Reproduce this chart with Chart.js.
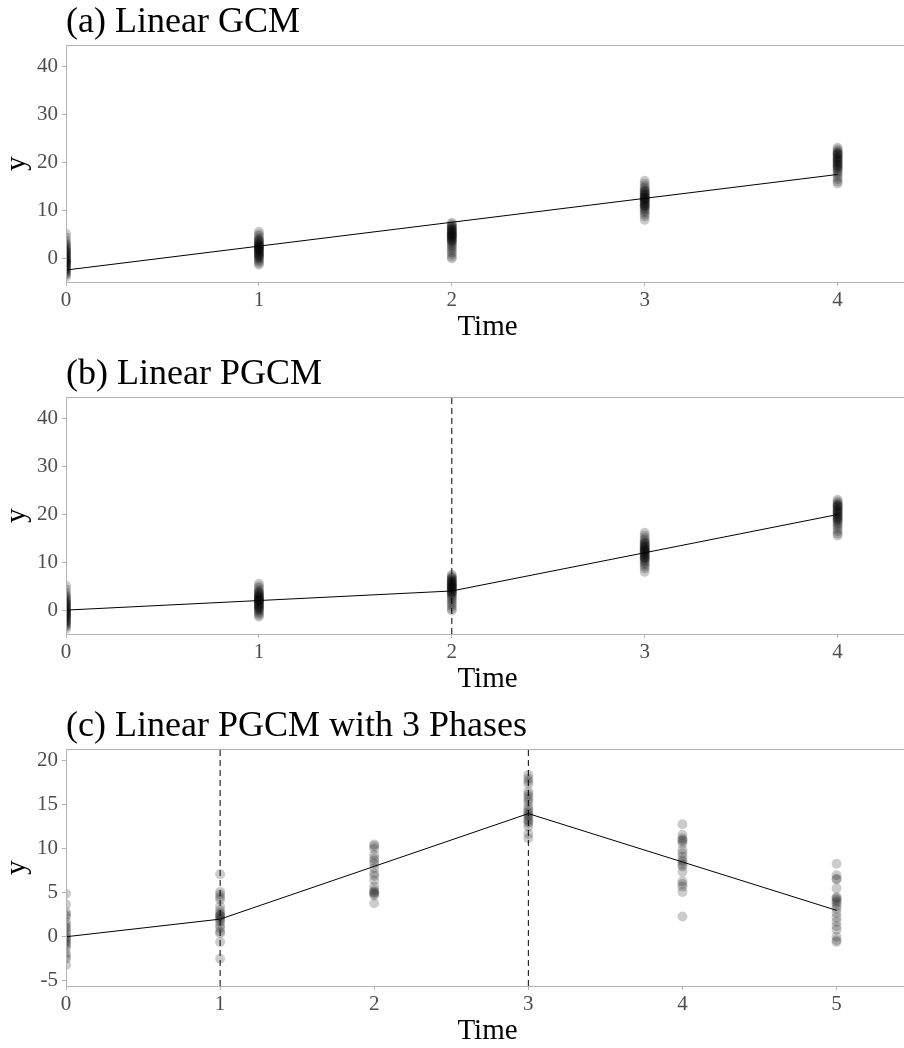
<!DOCTYPE html>
<html>
<head>
<meta charset="utf-8">
<script src="https://cdn.jsdelivr.net/npm/chart.js@4.4.1/dist/chart.umd.min.js"></script>
<style>
    body { margin: 0; overflow: hidden; background: #fff; }
    .panel { width: 914px; height: 352px; position: relative; }
</style>
</head>
<body>
<div class="panel"><canvas id="chart-a"></canvas></div>
<div class="panel"><canvas id="chart-b"></canvas></div>
<div class="panel"><canvas id="chart-c"></canvas></div>
<script>
// observed y at each time point, panels (a) and (b) share the same sample
const timesAB = [0, 1, 2, 3, 4];
const obsT0 = [5.1, 4.3, 3.6, 3.2, 2.9, 2.6, 2.3, 2.1, 1.8, 1.5, 1.3, 1.1, 0.9, 0.6, 0.4, 0.2, 0.0, -0.1, -0.3, -0.5, -0.6, -0.8, -1.0, -1.1, -1.3, -1.5, -1.7, -1.9, -2.1, -2.3, -2.5, -2.7, -2.9, -3.2, -3.5, -3.9, 0.8, -0.4, 1.6, -1.2];
const obsT1 = [5.5, 5.0, 4.6, 4.2, 3.9, 3.6, 3.4, 3.1, 2.9, 2.7, 2.5, 2.3, 2.1, 1.9, 1.7, 1.5, 1.3, 1.1, 0.9, 0.7, 0.5, 0.3, 0.1, -0.1, -0.4, -0.7, -1.0, -1.4, 2.6, 2.2, 1.8, 3.0, 1.2, 0.6, 3.7, 2.0];
const obsT2 = [7.4, 7.1, 6.8, 6.6, 6.3, 6.1, 5.9, 5.7, 5.5, 5.3, 5.1, 4.9, 4.7, 4.5, 4.3, 4.1, 3.9, 3.7, 3.5, 3.3, 3.0, 2.7, 2.4, 2.0, 1.6, 1.2, 0.8, 0.3, -0.1, 6.0, 5.4, 4.8, 4.4, 6.5, 5.0, 3.8];
const obsT3 = [16.2, 15.6, 15.1, 14.7, 14.4, 14.1, 13.8, 13.5, 13.2, 12.9, 12.7, 12.5, 12.3, 12.1, 11.9, 11.7, 11.4, 11.1, 10.8, 10.5, 10.2, 9.9, 9.6, 9.2, 8.7, 8.0, 12.6, 13.0, 11.5, 10.9, 14.0, 12.2, 11.0, 13.4];
const obsT4 = [23.1, 22.7, 22.4, 22.1, 21.8, 21.5, 21.2, 20.9, 20.6, 20.3, 20.0, 19.7, 19.4, 19.1, 18.8, 18.5, 18.2, 17.9, 17.5, 17.0, 16.5, 16.0, 15.6, 21.0, 20.1, 19.0, 22.0, 20.5, 19.5, 21.6];

// panel (c) sample
const timesC = [0, 1, 2, 3, 4, 5];
const obsC0 = [4.9, 3.7, 2.8, 2.3, 1.7, 1.1, 0.6, 0.0, -0.4, -0.8, -1.3, -1.9, -2.5, -3.2, 2.5, 1.4, 0.3, -0.6, -1.0, -2.2, -0.2, 0.9];
const obsC1 = [7.1, 5.1, 4.5, 4.2, 3.4, 2.7, 2.3, 1.9, 1.3, 0.6, 0.4, -0.6, -2.5, 2.5, 2.1, 1.7, 4.8, 3.0, 1.0, 2.4];
const obsC2 = [10.5, 10.0, 8.9, 8.3, 7.8, 7.2, 6.4, 5.7, 5.1, 4.7, 3.8, 10.3, 8.6, 5.3, 4.9, 6.9, 9.3, 5.0];
const obsC3 = [18.4, 18.0, 17.4, 16.5, 15.9, 15.3, 14.8, 14.2, 13.8, 13.3, 12.5, 11.7, 11.2, 16.2, 14.0, 13.6, 14.5, 12.9, 15.6, 17.7, 13.1];
const obsC4 = [12.8, 11.6, 11.2, 10.6, 9.9, 9.1, 8.5, 8.0, 7.4, 6.3, 5.7, 5.1, 2.3, 11.0, 8.7, 8.2, 6.0, 9.5, 10.9];
const obsC5 = [8.3, 7.0, 6.6, 5.5, 4.5, 4.2, 3.8, 3.2, 2.7, 1.7, 0.8, 0.0, -0.6, 4.0, 3.5, 6.5, 1.2, 2.2, 4.4, -0.4];

// fitted mean trajectories
const fitTimesA = [0, 1, 2, 3, 4];
const fitA = [-2.5, 2.5, 7.5, 12.5, 17.5];
const fitTimesB = [0, 1, 2, 3, 4];
const fitB = [0, 2, 4, 12, 20];
const fitTimesC = [0, 1, 2, 3, 4, 5];
const fitC = [0, 2, 8, 14, 8.5, 3];

// knots (dashed lines)
const knotsB = [2];
const knotsC = [1, 3];

// axis ticks
const xTicksAB = [0, 1, 2, 3, 4];
const xTicksC = [0, 1, 2, 3, 4, 5];
const yTicksAB = [0, 10, 20, 30, 40];
const yTicksC = [-5, 0, 5, 10, 15, 20];

Chart.defaults.font.family = "'Liberation Serif', 'Times New Roman', serif";

const frameColour = '#b3b3b3';

// panel border on top of the data, like ggplot's panel.border
const panelBorder = {
    id: 'panelBorder',
    afterDatasetsDraw(chart) {
        const a = chart.chartArea;
        const ctx = chart.ctx;
        ctx.save();
        ctx.strokeStyle = frameColour;
        ctx.lineWidth = 1;
        ctx.strokeRect(Math.round(a.left) + 0.5, Math.round(a.top) + 0.5, Math.round(a.right - a.left) + 20, Math.round(a.bottom - a.top));
        ctx.restore();
    }
};

function cloud(times, groups) {
    const pts = [];
    groups.forEach((vals, i) => {
        vals.forEach((v) => pts.push({ x: times[i], y: v }));
    });
    return pts;
}

function makePanel(id, title, times, groups, fitX, fitY, knots, xTicks, yTicks, xMax, yMin, yMax, alpha) {
    const datasets = [
        {
            type: 'scatter',
            data: cloud(times, groups),
            pointRadius: 5,
            pointBorderWidth: 0,
            pointBackgroundColor: 'rgba(0,0,0,' + alpha + ')',
            pointHoverRadius: 5,
            clip: 0,
            order: 3
        },
        {
            type: 'line',
            data: fitX.map((t, i) => ({ x: t, y: fitY[i] })),
            borderColor: '#000',
            borderWidth: 1,
            pointRadius: 0,
            tension: 0,
            order: 1
        }
    ];
    knots.forEach((k) => {
        datasets.push({
            type: 'line',
            data: [{ x: k, y: yMin }, { x: k, y: yMax }],
            borderColor: '#000',
            borderWidth: 1,
            borderDash: [6, 4],
            pointRadius: 0,
            order: 2
        });
    });

    new Chart(document.getElementById(id), {
        type: 'scatter',
        data: { datasets: datasets },
        options: {
            responsive: true,
            maintainAspectRatio: false,
            animation: false,
            layout: { padding: { left: 0, right: 0, top: 0, bottom: 0 } },
            plugins: {
                legend: { display: false },
                tooltip: { enabled: false },
                title: {
                    display: true,
                    text: title,
                    align: 'start',
                    fullSize: false,
                    color: '#000',
                    font: { size: 36, weight: 'normal', lineHeight: 1.15 },
                    padding: { top: 2, bottom: 2 }
                }
            },
            scales: {
                x: {
                    type: 'linear',
                    min: 0,
                    max: xMax,
                    afterBuildTicks: (axis) => { axis.ticks = xTicks.map((v) => ({ value: v })); },
                    afterFit: (scale) => { scale.height = 70; },
                    grid: { display: true, drawOnChartArea: false, tickLength: 4, tickColor: frameColour },
                    border: { display: false },
                    ticks: { color: '#4d4d4d', font: { size: 21 }, padding: 2, maxRotation: 0 },
                    title: { display: true, text: 'Time', color: '#000', font: { size: 29 }, padding: { top: 0, bottom: 7 } }
                },
                y: {
                    min: yMin,
                    max: yMax,
                    afterBuildTicks: (axis) => { axis.ticks = yTicks.map((v) => ({ value: v })); },
                    afterFit: (scale) => { scale.width = 66; },
                    grid: { display: true, drawOnChartArea: false, tickLength: 4, tickColor: frameColour },
                    border: { display: false },
                    ticks: { color: '#4d4d4d', font: { size: 21 }, padding: 4 },
                    title: { display: true, text: 'y', color: '#000', font: { size: 29 }, padding: { top: 0, bottom: 0 } }
                }
            }
        },
        plugins: [panelBorder]
    });
}

makePanel('chart-a', '(a) Linear GCM', timesAB, [obsT0, obsT1, obsT2, obsT3, obsT4], fitTimesA, fitA, [], xTicksAB, yTicksAB, 4.37, -5, 44.5, 0.2);
makePanel('chart-b', '(b) Linear PGCM', timesAB, [obsT0, obsT1, obsT2, obsT3, obsT4], fitTimesB, fitB, knotsB, xTicksAB, yTicksAB, 4.37, -5, 44.5, 0.2);
makePanel('chart-c', '(c) Linear PGCM with 3 Phases', timesC, [obsC0, obsC1, obsC2, obsC3, obsC4, obsC5], fitTimesC, fitC, knotsC, xTicksC, yTicksC, 5.47, -5.6, 21.3, 0.2);
</script>
</body>
</html>
